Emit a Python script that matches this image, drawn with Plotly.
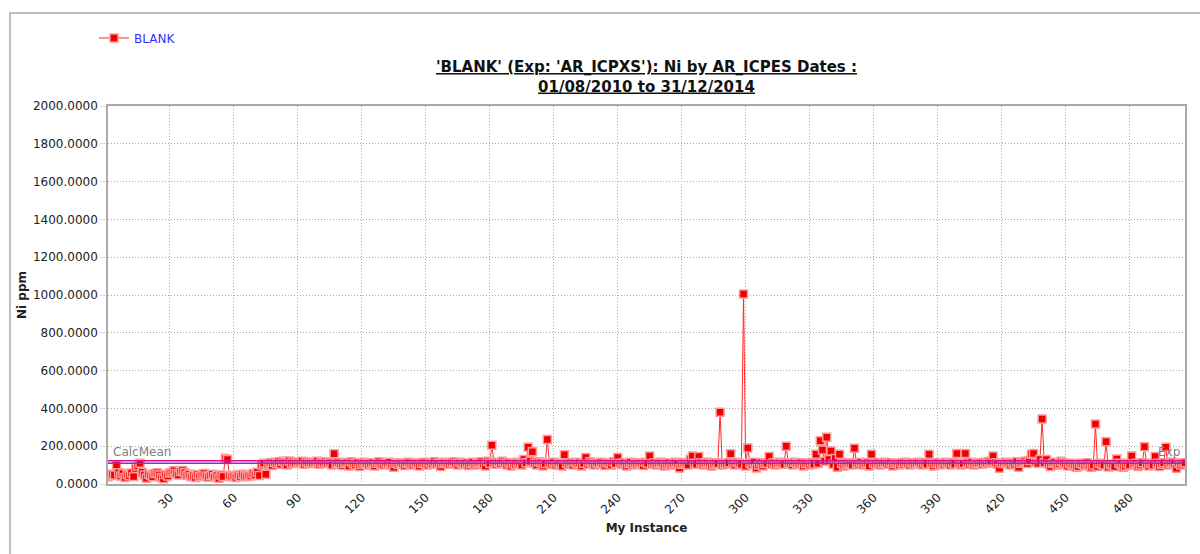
import plotly.graph_objects as go

# ---- data ----
ni_ppm = [
    38, 45, 52, 48, 100, 60, 42, 55, 35, 50,
    44, 58, 40, 82, 95, 110, 62, 48, 30, 52,
    45, 38, 55, 60, 48, 35, 28, 50, 42, 58,
    62, 70, 55, 48, 66, 72, 60, 45, 52, 38,
    44, 35, 50, 40, 48, 55, 42, 36, 45, 52,
    38, 44, 30, 48, 40, 135, 130, 45, 38, 42,
    35, 48, 40, 52, 44, 38, 46, 42, 55, 48,
    62, 45, 100, 110, 52, 105, 112, 98, 115, 108,
    118, 105, 120, 112, 100, 122, 110, 118, 108, 115,
    112, 120, 105, 118, 110, 115, 108, 112, 120, 105,
    115, 110, 118, 108, 112, 100, 160, 108, 115, 105,
    98, 110, 112, 95, 118, 108, 100, 112, 92, 105,
    115, 110, 100, 108, 112, 95, 110, 118, 105, 100,
    112, 108, 115, 100, 88, 110, 105, 112, 108, 98,
    110, 115, 105, 100, 112, 108, 95, 110, 115, 105,
    100, 112, 108, 118, 105, 110, 92, 108, 115, 110,
    105, 112, 118, 108, 100, 115, 110, 105, 112, 98,
    108, 115, 100, 110, 112, 118, 105, 95, 120, 110,
    205, 112, 105, 115, 108, 120, 110, 100, 112, 95,
    110, 105, 115, 108, 100, 130, 112, 195, 120, 170,
    110, 100, 118, 112, 95, 108, 235, 110, 105, 115,
    100, 112, 108, 95, 155, 110, 105, 112, 100, 115,
    108, 112, 95, 110, 140, 105, 118, 110, 100, 112,
    108, 115, 105, 98, 112, 110, 100, 118, 108, 140,
    110, 105, 112, 95, 108, 115, 100, 110, 105, 112,
    108, 98, 115, 110, 148, 105, 112, 100, 108, 115,
    110, 95, 105, 112, 100, 108, 115, 110, 85, 105,
    112, 108, 100, 130, 148, 110, 105, 145, 112, 100,
    108, 115, 110, 95, 105, 112, 108, 380, 100, 110,
    105, 112, 160, 108, 100, 115, 110, 105, 1005, 95,
    190, 110, 105, 115, 85, 100, 112, 95, 108, 110,
    145, 105, 112, 100, 108, 115, 110, 105, 200, 112,
    108, 100, 115, 110, 105, 112, 95, 108, 110, 100,
    112, 105, 157, 110, 229, 180, 120, 247, 130, 175,
    105, 135, 88, 157, 110, 95, 105, 112, 108, 100,
    189, 110, 105, 115, 100, 108, 112, 95, 157, 110,
    105, 112, 100, 108, 115, 110, 105, 112, 95, 108,
    110, 100, 112, 105, 115, 108, 100, 112, 105, 110,
    115, 108, 100, 112, 105, 157, 110, 95, 108, 112,
    100, 110, 105, 115, 108, 100, 112, 105, 162, 110,
    100, 108, 162, 112, 105, 115, 100, 110, 108, 112,
    105, 115, 110, 118, 120, 148, 112, 105, 83, 110,
    108, 115, 110, 100, 112, 105, 118, 88, 110, 112,
    120, 108, 125, 157, 162, 115, 110, 130, 344, 112,
    130, 105, 92, 110, 115, 100, 108, 120, 112, 105,
    95, 110, 105, 100, 88, 92, 110, 105, 100, 112,
    95, 88, 100, 317, 92, 110, 105, 100, 224, 90,
    105, 100, 92, 132, 110, 105, 88, 95, 110, 100,
    148, 105, 110, 92, 100, 112, 197, 105, 95, 110,
    100, 145, 110, 92, 105, 112, 194, 100, 110, 115,
    105, 83, 110, 100, 112, 113,
]
instances = list(range(1, len(ni_ppm) + 1))

calc_mean = 123
exp_value = 110

x_ticks = [30, 60, 90, 120, 150, 180, 210, 240, 270, 300, 330, 360, 390, 420, 450, 480]
y_ticks = [0, 200, 400, 600, 800, 1000, 1200, 1400, 1600, 1800, 2000]

series_name = "BLANK"
title_line1 = "'BLANK' (Exp: 'AR_ICPXS'): Ni by AR_ICPES Dates :"
title_line2 = "01/08/2010 to 31/12/2014"

FONT = "DejaVu Sans"

fig = go.Figure()

fig.add_trace(go.Scatter(
    x=instances, y=ni_ppm, mode="lines+markers", name=series_name,
    line=dict(color="#FF2A2A", width=1),
    marker=dict(symbol="square", size=8, color="#EE0000",
                line=dict(color="#FF9A9A", width=1.5)),
))

x_min, x_max = instances[0], instances[-1]
fig.add_shape(type="line", xref="paper", x0=0, x1=1, y0=calc_mean, y1=calc_mean,
              line=dict(color="#E8107A", width=1.5))
fig.add_shape(type="line", xref="paper", x0=0, x1=1, y0=exp_value, y1=exp_value,
              line=dict(color="#8A2BE2", width=1.5))

# outer frame
fig.add_shape(type="rect", xref="paper", yref="paper",
              x0=-0.091, x1=1.2, y0=-0.4, y1=1.246,
              line=dict(color="#AAAAAA", width=1.5), layer="below")

fig.add_annotation(text="CalcMean", xref="paper", x=0.003, y=calc_mean,
                   xanchor="left", yanchor="bottom", showarrow=False,
                   font=dict(family=FONT, size=12, color="#808080"))
fig.add_annotation(text="Exp", xref="paper", x=0.997, y=calc_mean,
                   xanchor="right", yanchor="bottom", showarrow=False,
                   font=dict(family=FONT, size=12, color="#808080"))

fig.update_layout(
    width=1200, height=554,
    paper_bgcolor="white", plot_bgcolor="white",
    margin=dict(l=108, r=15, t=106, b=70),
    font=dict(family=FONT, size=12, color="#222222"),
    title=dict(text="<b><u>" + title_line1 + "</u><br><u>" + title_line2 + "</u></b>",
               x=0.5, xref="paper", xanchor="center",
               y=0.87, yanchor="middle",
               font=dict(family=FONT, size=15, color="#111111")),
    showlegend=True,
    legend=dict(x=-0.013, y=1.18, xanchor="left", yanchor="middle",
                font=dict(family=FONT, size=12, color="#3030FF"),
                bgcolor="rgba(0,0,0,0)", itemwidth=30),
    xaxis=dict(range=[x_min, x_max], tickvals=x_ticks, tickangle=-45,
               showgrid=True, gridcolor="#AAAAAA", griddash="1px,2px", gridwidth=1,
               showline=True, linecolor="#AAAAAA", linewidth=1.5, mirror=True,
               zeroline=False, ticks="",
               title=dict(text="<b>My Instance</b>", font=dict(family=FONT, size=12), standoff=8),
               tickfont=dict(family=FONT, size=12, color="#222222")),
    yaxis=dict(range=[0, 2000], tickvals=y_ticks, tickformat=".4f",
               showgrid=True, gridcolor="#AAAAAA", griddash="1px,2px", gridwidth=1,
               showline=True, linecolor="#AAAAAA", linewidth=1.5, mirror=True,
               zeroline=False, ticks="outside", ticklen=6, tickcolor="#DDDDDD",
               title=dict(text="<b>Ni ppm</b>", font=dict(family=FONT, size=12), standoff=4),
               tickfont=dict(family=FONT, size=12, color="#222222")),
)

fig.write_html("out.html", config={"displayModeBar": False},
               post_script="document.body.style.margin='0';document.body.style.padding='0';")
